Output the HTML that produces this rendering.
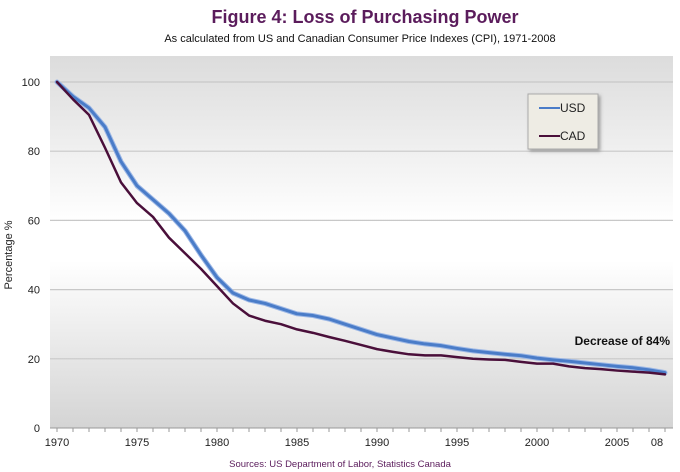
<!DOCTYPE html>
<html><head><meta charset="utf-8"><style>
body{margin:0;background:#fff;font-family:"Liberation Sans",sans-serif}
svg{display:block}
</style></head><body>
<svg width="680" height="472">
<defs>
<linearGradient id="bg" x1="0" y1="0" x2="0" y2="1">
<stop offset="0" stop-color="#dcdcdc"/><stop offset="0.45" stop-color="#ffffff"/><stop offset="0.55" stop-color="#ffffff"/><stop offset="1" stop-color="#d4d4d4"/>
</linearGradient>
<filter id="sh" x="-10%" y="-10%" width="130%" height="140%"><feDropShadow dx="2" dy="2" stdDeviation="1.5" flood-color="#555" flood-opacity="0.5"/></filter>
</defs>
<text x="365" y="23" text-anchor="middle" font-size="18" font-weight="bold" fill="#5b1c5c">Figure 4: Loss of Purchasing Power</text>
<text x="360" y="42" text-anchor="middle" font-size="11" fill="#111">As calculated from US and Canadian Consumer Price Indexes (CPI), 1971-2008</text>
<rect x="50" y="56" width="623" height="372" fill="url(#bg)"/>
<g id="grid"></g><g id="axes"></g><g id="series"></g>
<text x="12" y="255" transform="rotate(-90 12 255)" text-anchor="middle" font-size="11" fill="#222">Percentage %</text>
<text x="670" y="345" text-anchor="end" font-size="12" font-weight="bold" fill="#111">Decrease of 84%</text>
<g>
<rect x="528" y="94" width="70" height="55" fill="#eeece4" stroke="#aaa" filter="url(#sh)"/>
<line x1="539" y1="108" x2="560" y2="108" stroke="#4a7cc8" stroke-width="2"/>
<text x="560" y="112" font-size="12" fill="#222">USD</text>
<line x1="539" y1="136" x2="560" y2="136" stroke="#4a0f3a" stroke-width="2"/>
<text x="560" y="140" font-size="12" fill="#222">CAD</text>
</g>
<text x="340" y="467" text-anchor="middle" font-size="9.5" fill="#5b1c5c">Sources: US Department of Labor, Statistics Canada</text>
</svg>
<script>
const years=[1970,1971,1972,1973,1974,1975,1976,1977,1978,1979,1980,1981,1982,1983,1984,1985,1986,1987,1988,1989,1990,1991,1992,1993,1994,1995,1996,1997,1998,1999,2000,2001,2002,2003,2004,2005,2006,2007,2008];
const usd=[100,95.8,92.5,87,77,70,66,62,57,50,43.5,39,37,36,34.5,33,32.5,31.5,30,28.5,27,26,25,24.3,23.8,23,22.3,21.8,21.3,20.9,20.2,19.7,19.3,18.8,18.3,17.8,17.4,16.8,16];
const cad=[100,95,90.5,81,71,65,61,55,50.5,46,41,36,32.5,31,30,28.5,27.5,26.3,25.2,24,22.8,22,21.3,21,21,20.5,20,19.8,19.7,19.1,18.6,18.6,17.8,17.3,17,16.6,16.3,16,15.5];
const yTicks=[0,20,40,60,80,100];
const xLabels=[[1970,"1970"],[1975,"1975"],[1980,"1980"],[1985,"1985"],[1990,"1990"],[1995,"1995"],[2000,"2000"],[2005,"2005"],[2007.5,"08"]];
const NS="http://www.w3.org/2000/svg";
const X=y=>57+16*(y-1970), Y=v=>428-3.46*v;
function mk(t,a,p){const e=document.createElementNS(NS,t);for(const k in a)e.setAttribute(k,a[k]);p.appendChild(e);return e;}
const grid=document.getElementById('grid'),axes=document.getElementById('axes'),ser=document.getElementById('series');
yTicks.forEach(v=>{
 if(v>0){const l=mk('line',{x1:50,x2:673,y1:Y(v),y2:Y(v),stroke:'#c8c8c8','stroke-width':1.2},grid);
 
 }
 const t=mk('text',{x:40,y:Y(v)+4,'text-anchor':'end','font-size':11,fill:'#222'},axes);t.textContent=v;
 
 
});
const ax=mk('line',{x1:50,x2:673,y1:428,y2:428,stroke:'#999'},axes);


years.forEach(y=>{mk('line',{x1:X(y),x2:X(y),y1:428,y2:432,stroke:'#999'},axes);});
xLabels.forEach(([y,s])=>{const t=mk('text',{x:X(y),y:446,'text-anchor':'middle','font-size':11,fill:'#222'},axes);t.textContent=s;
 
 });
function line(vals,color,w,name){const d=vals.map((v,i)=>(i?'L':'M')+X(years[i])+','+Y(v)).join(' ');
 const p=mk('path',{d:d,fill:'none',stroke:color,'stroke-width':w,'stroke-linejoin':'round','stroke-linecap':'round'},ser);
 
 }
line(usd,'#9db8e6',5,'usd-line-glow');line(usd,'#4a7cc8',3,'usd-line');
line(cad,'#4a0f3a',2.5,'cad-line');
</script>
</body></html>
